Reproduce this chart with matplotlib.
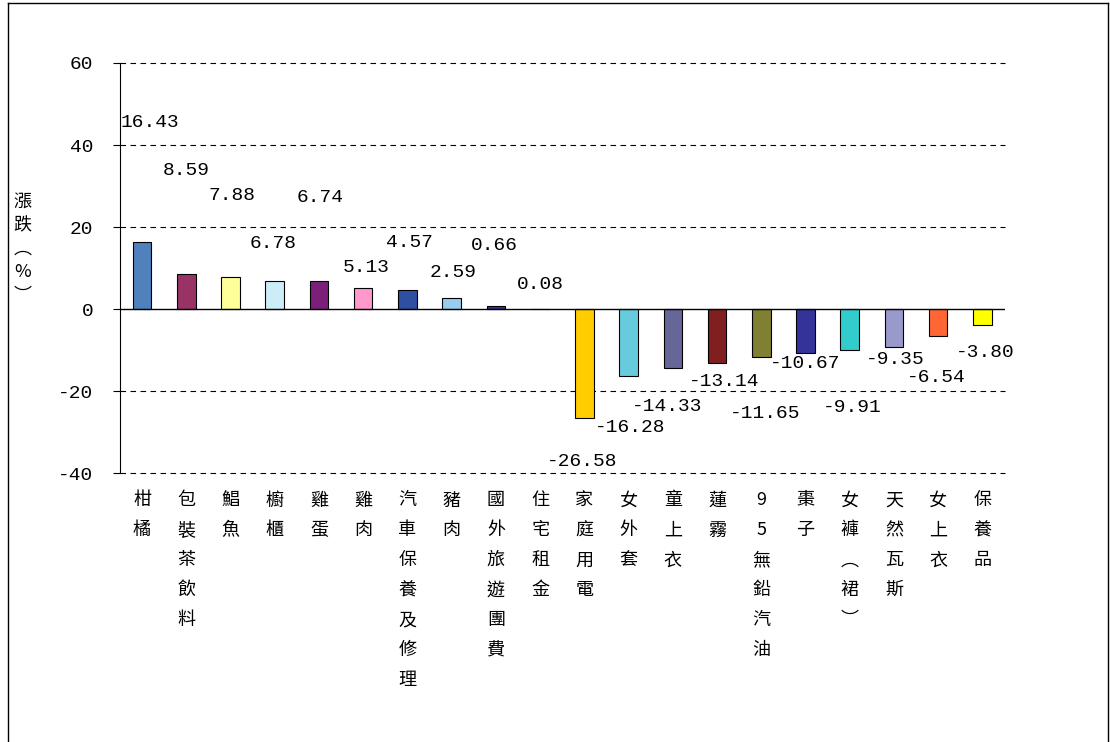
import matplotlib.pyplot as plt
from matplotlib.lines import Line2D

plt.rcParams['font.family'] = ['Noto Sans CJK TC', 'DejaVu Sans']
plt.rcParams['axes.unicode_minus'] = False

categories = ['柑橘', '包裝茶飲料', '鯧魚', '櫥櫃', '雞蛋', '雞肉', '汽車保養及修理', '豬肉',
              '國外旅遊團費', '住宅租金', '家庭用電', '女外套', '童上衣', '蓮霧', '95無鉛汽油',
              '棗子', '女褲︵裙︶', '天然瓦斯', '女上衣', '保養品']
values = [16.43, 8.59, 7.88, 6.78, 6.74, 5.13, 4.57, 2.59, 0.66, 0.08,
          -26.58, -16.28, -14.33, -13.14, -11.65, -10.67, -9.91, -9.35, -6.54, -3.80]
colors = ['#4F81BD', '#993366', '#FFFF99', '#CCECF8', '#7B1F7B', '#FF99CC', '#2F4FA0', '#99CCEE',
          '#333399', '#333333', '#FFCC00', '#66CCDD', '#666699', '#7F1F1F', '#808033',
          '#333399', '#33CCCC', '#9999CC', '#FF6633', '#FFFF00']
# label anchor positions (x offset, y in data units)
label_dx = [0.18, 0.01, 0.03, -0.04, 0.02, 0.06, 0.05, 0.03, -0.03, 0.01,
            -0.04, 0.03, -0.12, 0.15, 0.08, 0.0, 0.06, 0.04, -0.04, 0.07]
label_y = [45.6, 33.9, 27.6, 15.9, 27.1, 10.2, 16.1, 8.8, 15.4, 6.1,
           -37.3, -29.0, -23.7, -17.8, -25.4, -13.3, -23.9, -12.4, -16.8, -10.5]

fig = plt.figure(figsize=(11.1, 7.42), dpi=100)
ax = fig.add_axes([0.108, 0.3625, 0.797, 0.5526])

x = list(range(len(values)))
ax.bar(x, values, width=0.42, color=colors, edgecolor='black', linewidth=0.8, zorder=3)
ax.axhline(0, color='black', linewidth=1, zorder=4)
for yv in [60, 40, 20, -20, -40]:
    ax.axhline(yv, color='black', linewidth=0.8, linestyle=(0, (5, 4)), zorder=1, clip_on=False)

ax.set_xlim(-0.5, len(values) - 0.5)
ax.set_ylim(-40, 60)
ax.set_yticks([60, 40, 20, 0, -20, -40])
ax.set_yticklabels(['60', '40', '20', '0', '-20', '-40'], family='Liberation Mono', fontsize=14)
ax.set_xticks([])
for s in ['top', 'right', 'bottom']:
    ax.spines[s].set_visible(False)
ax.tick_params(axis='y', direction='out', length=5, pad=14)

for i, v in enumerate(values):
    ax.text(i + label_dx[i], label_y[i], f'{v:.2f}', ha='center', va='center',
            family='Liberation Mono', fontsize=14)

for i, c in enumerate(categories):
    ax.text(i, -44.5, '\n'.join(c), ha='center', va='top', fontsize=13, linespacing=1.85)

fig.text(0.02, 0.665, '漲\n跌\n︵\n%\n︶', ha='center', va='center', fontsize=13, linespacing=1.4)

# outer frame
fig.add_artist(Line2D([0.007, 0.007], [0, 0.996], transform=fig.transFigure, color='black', lw=1))
fig.add_artist(Line2D([0.007, 0.998], [0.996, 0.996], transform=fig.transFigure, color='black', lw=1))
fig.add_artist(Line2D([0.998, 0.998], [0, 0.996], transform=fig.transFigure, color='black', lw=1))

fig.savefig('out.png', dpi=100)
